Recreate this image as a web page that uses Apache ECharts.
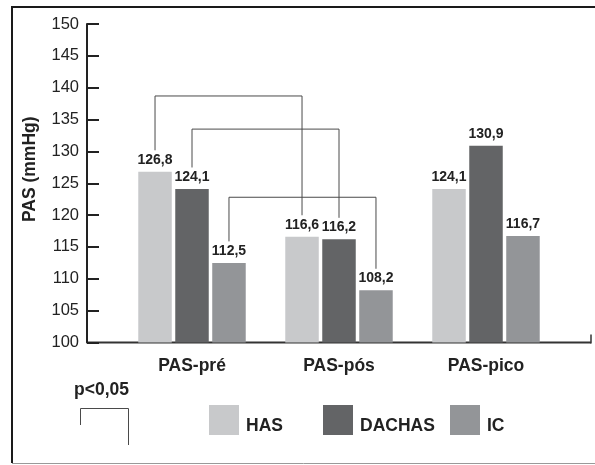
<!DOCTYPE html>
<html>
<head>
<meta charset="utf-8">
<script src="https://cdn.jsdelivr.net/npm/echarts@6/dist/echarts.min.js"></script>
<style>
html,body{margin:0;padding:0;background:#fff;}
#chart{width:595px;height:465px;}
</style>
</head>
<body>
<div id="chart"></div>
<script>
// ---- data ----
const categories = ['PAS-pré', 'PAS-pós', 'PAS-pico'];
const seriesNames = ['HAS', 'DACHAS', 'IC'];
const hasValues = [126.8, 116.6, 124.1];
const dachasValues = [124.1, 116.2, 130.9];
const icValues = [112.5, 108.2, 116.7];
const yTicks = { min: 100, max: 150, interval: 5 };
// significance brackets: series index, from category, to category, bracket top value
const bracketSeries = [0, 1, 2];
const bracketFrom = [0, 0, 0];
const bracketTo = [1, 1, 1];
const bracketTop = [138.7, 133.5, 122.8];
const pLabel = 'p<0,05';

const colors = ['#c8c9cb', '#636466', '#939598'];
const textColor = '#222';
const FONT = '"Liberation Sans", Arial, sans-serif';

const chart = echarts.init(document.getElementById('chart'), null, { renderer: 'canvas' });

function fmt(v) { return v.toFixed(1).replace('.', ','); }

const valueSets = [hasValues, dachasValues, icValues];
const series = seriesNames.map((name, i) => ({
  name: name,
  type: 'bar',
  data: valueSets[i],
  barWidth: 33.5,
  barGap: '10.4%',
  itemStyle: { color: colors[i] },
  label: {
    show: true,
    position: 'top',
    distance: 5,
    fontFamily: FONT,
    fontWeight: 'bold',
    fontSize: 14,
    color: textColor,
    formatter: p => fmt(p.value)
  }
}));

const legendLefts = [209, 323, 450];
const legends = seriesNames.map((name, i) => ({
  data: [name],
  left: legendLefts[i],
  top: 405,
  icon: 'rect',
  itemWidth: 30,
  itemHeight: 30,
  padding: 0,
  selectedMode: false,
  formatter: '{t|{name}}',
  textStyle: {
    fontFamily: FONT,
    fontWeight: 'bold',
    fontSize: 17.5,
    color: textColor,
    rich: {
      t: {
        fontFamily: FONT,
        fontWeight: 'bold',
        fontSize: 17.5,
        color: textColor,
        padding: [12, 0, 0, 2]
      }
    }
  }
}));

const option = {
  animation: false,
  backgroundColor: '#fff',
  textStyle: { fontFamily: FONT },
  grid: { left: 118.5, right: 35.5, top: 24, bottom: 122.5 },
  legend: legends,
  xAxis: {
    type: 'category',
    data: categories,
    axisLine: { show: false },
    axisTick: { show: false },
    axisLabel: {
      fontFamily: FONT, fontWeight: 'bold', fontSize: 17.5, color: textColor, margin: 15
    }
  },
  yAxis: {
    type: 'value',
    min: yTicks.min,
    max: yTicks.max,
    interval: yTicks.interval,
    offset: 31.5,
    name: 'PAS (mmHg)',
    nameLocation: 'middle',
    nameGap: 48,
    nameTextStyle: {
      fontFamily: FONT, fontWeight: 700, fontSize: 17.5, color: textColor,
      padding: [0, 0, 0, 28]
    },
    axisLine: { show: true, lineStyle: { color: '#222', width: 2 } },
    axisTick: { show: true, inside: true, length: 12, lineStyle: { color: '#222', width: 2 } },
    axisLabel: { fontFamily: FONT, fontSize: 16.5, color: textColor, margin: 8 },
    splitLine: { show: false }
  },
  series: series
};

chart.setOption(option);

function buildGraphics() {
  const elements = [];
  const line = (x1, y1, x2, y2, color, w) => ({
    type: 'line', silent: true,
    shape: { x1, y1, x2, y2 },
    style: { stroke: color, lineWidth: w }
  });
  // outer frame
  elements.push(line(11, 7, 595, 7, '#1a1a1a', 2));
  elements.push(line(12, 6, 12, 463, '#1a1a1a', 2));
  elements.push(line(12, 463.5, 595, 463.5, '#999', 1));
  // x axis baseline spanning from y axis to the right end
  const yBase = chart.convertToPixel({ yAxisIndex: 0 }, yTicks.min);
  const xAxisLeft = 87;
  elements.push(line(xAxisLeft, yBase, 591, yBase, '#333', 2));
  elements.push(line(591, yBase - 8, 591, yBase + 1, '#333', 1.5));

  // significance brackets
  const model = chart.getModel();
  bracketSeries.forEach((s, i) => {
    const data = model.getSeriesByIndex(s).getData();
    const a = data.getItemLayout(bracketFrom[i]);
    const b = data.getItemLayout(bracketTo[i]);
    const xa = a.x + a.width / 2;
    const xb = b.x + b.width / 2;
    const ya = Math.min(a.y, a.y + a.height) - 21.5;
    const yb = Math.min(b.y, b.y + b.height) - 21.5;
    const yt = chart.convertToPixel({ yAxisIndex: 0 }, bracketTop[i]);
    elements.push({
      type: 'polyline', silent: true,
      shape: { points: [[xa, ya], [xa, yt], [xb, yt], [xb, yb]] },
      style: { stroke: '#4a4a4a', lineWidth: 1, fill: null }
    });
  });

  // p-value key
  elements.push({
    type: 'text', silent: true, left: 74, top: 381,
    style: { text: pLabel, font: 'bold 17.5px ' + FONT, fill: textColor }
  });
  elements.push({
    type: 'polyline', silent: true,
    shape: { points: [[80.5, 425], [80.5, 408.5], [128.5, 408.5], [128.5, 445]] },
    style: { stroke: '#4a4a4a', lineWidth: 1, fill: null }
  });
  chart.setOption({ graphic: { elements: elements } });
}
buildGraphics();
</script>
</body>
</html>
